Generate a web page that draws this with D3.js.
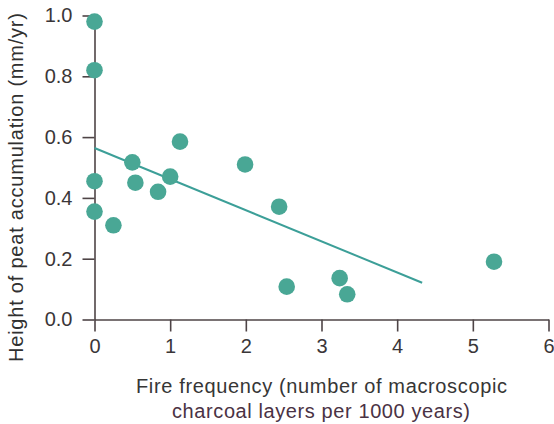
<!DOCTYPE html>
<html>
<head>
<meta charset="utf-8">
<script src="https://cdn.jsdelivr.net/npm/d3@7"></script>
<style>
  html, body { margin: 0; padding: 0; background: #ffffff; }
  svg { display: block; font-family: "Liberation Sans", Arial, Helvetica, sans-serif; }
</style>
</head>
<body>
<svg id="chart" width="554" height="424"></svg>
<script>
// Fire frequency (charcoal layers per 1000 yr) vs. peat accumulation (mm/yr)
const fireFrequency = [0, 0, 0, 0, 0.25, 0.5, 0.54, 0.84, 1.0, 1.13, 1.99, 2.44, 2.54, 3.24, 3.34, 5.28];
const peatHeight    = [0.98, 0.82, 0.455, 0.355, 0.31, 0.517, 0.45, 0.42, 0.47, 0.585, 0.51, 0.371, 0.108, 0.136, 0.083, 0.19];

// Fitted trend line, start and end
const trendX = [0, 4.33];
const trendY = [0.564, 0.121];

const xTicks = [0, 1, 2, 3, 4, 5, 6];
const yTicks = [0.0, 0.2, 0.4, 0.6, 0.8, 1.0];

const xTitle = ["Fire frequency (number of macroscopic", "charcoal layers per 1000 years)"];
const yTitle = "Height of peat accumulation (mm/yr)";

const svg = d3.select("#chart");

const x = d3.scaleLinear().domain([0, 6]).range([94.5, 548.5]);
const y = d3.scaleLinear().domain([0, 1]).range([319.5, 15.5]);

const axisColor = "#4e4446";
const tickColor = "#3a3638";

// Axes
const xAxis = d3.axisBottom(x).tickValues(xTicks).tickFormat(d3.format("d"))
  .tickSizeInner(12).tickSizeOuter(0).tickPadding(7);
const yAxis = d3.axisLeft(y).tickValues(yTicks).tickFormat(d3.format(".1f"))
  .tickSizeInner(12).tickSizeOuter(0).tickPadding(10);

const gx = svg.append("g").attr("transform", `translate(0,${y(0)})`).call(xAxis);
const gy = svg.append("g").attr("transform", `translate(${x(0)},0)`).call(yAxis);

[gx, gy].forEach(g => {
  g.select(".domain").attr("stroke", axisColor).attr("stroke-width", 1.6);
  g.selectAll(".tick line").attr("stroke", axisColor).attr("stroke-width", 1.6);
  g.selectAll(".tick text")
    .attr("fill", tickColor)
    .style("font-size", "20px")
    .style("font-family", "'Liberation Sans', Arial, sans-serif");
});
gx.selectAll(".tick text").attr("dy", "0.71em");

// Trend line
svg.append("line")
  .attr("x1", x(trendX[0])).attr("y1", y(trendY[0]))
  .attr("x2", x(trendX[1])).attr("y2", y(trendY[1]))
  .attr("stroke", "#3c9f98")
  .attr("stroke-width", 2);

// Data points
svg.append("g")
  .selectAll("circle")
  .data(fireFrequency.map((f, i) => ({ f, h: peatHeight[i] })))
  .join("circle")
  .attr("cx", d => x(d.f))
  .attr("cy", d => y(d.h))
  .attr("r", 8.3)
  .attr("fill", "#49a795");

// X-axis title (two lines)
svg.append("text")
  .attr("x", 321.5).attr("y", 393)
  .attr("text-anchor", "middle")
  .attr("fill", "#363636")
  .attr("textLength", 371).attr("lengthAdjust", "spacing")
  .style("font-size", "20px")
  .text(xTitle[0]);

svg.append("text")
  .attr("x", 321).attr("y", 418)
  .attr("text-anchor", "middle")
  .attr("fill", "#4a3244")
  .attr("textLength", 298).attr("lengthAdjust", "spacing")
  .style("font-size", "20px")
  .text(xTitle[1]);

// Y-axis title
svg.append("text")
  .attr("transform", "translate(23,187.5) rotate(-90)")
  .attr("text-anchor", "middle")
  .attr("fill", "#303030")
  .attr("textLength", 349).attr("lengthAdjust", "spacing")
  .style("font-size", "20px")
  .text(yTitle);
</script>
</body>
</html>
